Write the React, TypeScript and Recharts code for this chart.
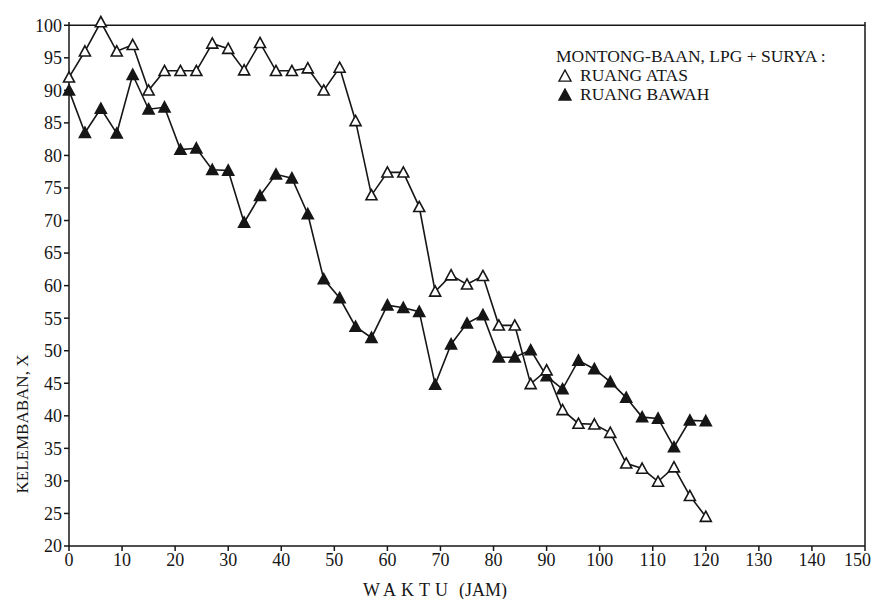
import { LineChart, Line, XAxis, YAxis, ReferenceLine, Legend } from 'recharts'

// jam pengamatan (setiap 3 jam)
const hours = [
  0, 3, 6, 9, 12, 15, 18, 21, 24, 27, 30, 33, 36, 39, 42, 45, 48, 51, 54, 57, 60,
  63, 66, 69, 72, 75, 78, 81, 84, 87, 90, 93, 96, 99, 102, 105, 108, 111, 114, 117, 120,
]

// kelembaban (%) ruang atas - segitiga kosong
const ruangAtas = [
  92, 96, 100.5, 96, 97, 90, 93, 93, 93, 97.2, 96.4, 93.1, 97.3, 93, 93, 93.4, 90, 93.5, 85.3, 73.9, 77.4,
  77.4, 72.1, 59.1, 61.6, 60.2, 61.5, 53.9, 53.9, 44.9, 47, 40.9, 38.8, 38.7, 37.4, 32.7, 31.9, 29.9, 32.1, 27.7, 24.5,
]

// kelembaban (%) ruang bawah - segitiga hitam
const ruangBawah = [
  90, 83.5, 87.2, 83.4, 92.4, 87.1, 87.4, 80.9, 81.1, 77.8, 77.7, 69.7, 73.8, 77.1, 76.5, 71, 61, 58.1, 53.7, 52, 57,
  56.6, 56, 44.8, 51, 54.2, 55.5, 49, 49, 50.1, 46.1, 44.1, 48.5, 47.2, 45.2, 42.8, 39.8, 39.6, 35.2, 39.3, 39.2,
]

const xTicks = [0, 10, 20, 30, 40, 50, 60, 70, 80, 90, 100, 110, 120, 130, 140, 150]
const yTicks = [20, 25, 30, 35, 40, 45, 50, 55, 60, 65, 70, 75, 80, 85, 90, 95, 100]

const legendTitle = 'MONTONG-BAAN, LPG + SURYA :'
const seriesNames = ['RUANG ATAS', 'RUANG BAWAH']

const INK = '#161616'
const FONT = '"Liberation Serif", "DejaVu Serif", serif'

const data = hours.map((h, i) => ({ jam: h, atas: ruangAtas[i], bawah: ruangBawah[i] }))

function triPath(cx: number, cy: number, s: number) {
  return `M${cx},${cy - s} L${cx + s},${cy + s * 0.85} L${cx - s},${cy + s * 0.85} Z`
}

function Tri({ cx, cy, filled }: { cx?: number; cy?: number; filled: boolean }) {
  if (cx == null || cy == null) return null
  return <path d={triPath(cx, cy, 5.5)} fill={filled ? INK : '#fff'} stroke={INK} strokeWidth={1.6} />
}

function LegendBox() {
  return (
    <div style={{ fontFamily: FONT, fontSize: 17.5, color: INK, lineHeight: '19px', whiteSpace: 'nowrap' }}>
      <div>{legendTitle}</div>
      {seriesNames.map((name, i) => (
        <div key={name} style={{ display: 'flex', alignItems: 'center' }}>
          <svg width={16} height={14} style={{ marginRight: 7, marginLeft: 1 }}>
            <path d={triPath(8, 7, 6)} fill={i === 1 ? INK : '#fff'} stroke={INK} strokeWidth={1.4} />
          </svg>
          <span>{name}</span>
        </div>
      ))}
    </div>
  )
}

export default function App() {
  return (
    <div style={{ position: 'absolute', left: 0, top: 0, width: 871, height: 599, background: '#fff' }}>
      <LineChart width={871} height={599} data={data} margin={{ top: 22, right: 6, bottom: 13, left: 19 }}>
        <XAxis
          type="number"
          dataKey="jam"
          domain={[0, 150]}
          ticks={xTicks}
          height={40}
          tickSize={5}
          tickMargin={2}
          stroke={INK}
          strokeWidth={1.5}
          tick={{ fill: INK, fontSize: 18, fontFamily: FONT }}
          label={(p: any) => {
            const vb = p.viewBox
            return (
              <text x={vb.x + vb.width / 2 - 32} y={vb.y + 50} textAnchor="middle" fill={INK} fontFamily={FONT} fontSize={18}>
                <tspan letterSpacing={5}>WAKTU</tspan>
                <tspan dx={6}>(JAM)</tspan>
              </text>
            )
          }}
        />
        <YAxis
          type="number"
          domain={[20, 'dataMax']}
          ticks={yTicks}
          width={50}
          tickSize={5}
          tickMargin={2}
          stroke={INK}
          strokeWidth={1.5}
          tick={{ fill: INK, fontSize: 18, fontFamily: FONT }}
          label={(p: any) => {
            const vb = p.viewBox
            const x = vb.x + 3
            const y = vb.y + vb.height / 2 + 140
            return (
              <text x={x} y={y} transform={`rotate(-90 ${x} ${y})`} textAnchor="middle" dominantBaseline="central" fontSize={17} fill={INK} fontFamily={FONT}>
                KELEMBABAN, X
              </text>
            )
          }}
        />
        <ReferenceLine y={100} stroke={INK} strokeWidth={1.5} />
        <ReferenceLine x={150} stroke={INK} strokeWidth={1.5} />
        <Legend
          layout="vertical"
          align="center"
          verticalAlign="middle"
          content={() => <LegendBox />}
          wrapperStyle={{ position: 'absolute', left: 556, top: 47, width: 300 }}
        />
        <Line
          type="linear"
          dataKey="bawah"
          name={seriesNames[1]}
          stroke={INK}
          strokeWidth={1.6}
          isAnimationActive={false}
          dot={(p: any) => <Tri key={`b-${p.index}`} cx={p.cx} cy={p.cy} filled />}
        />
        <Line
          type="linear"
          dataKey="atas"
          name={seriesNames[0]}
          stroke={INK}
          strokeWidth={1.6}
          isAnimationActive={false}
          dot={(p: any) => <Tri key={`a-${p.index}`} cx={p.cx} cy={p.cy} filled={false} />}
        />
      </LineChart>
    </div>
  )
}
